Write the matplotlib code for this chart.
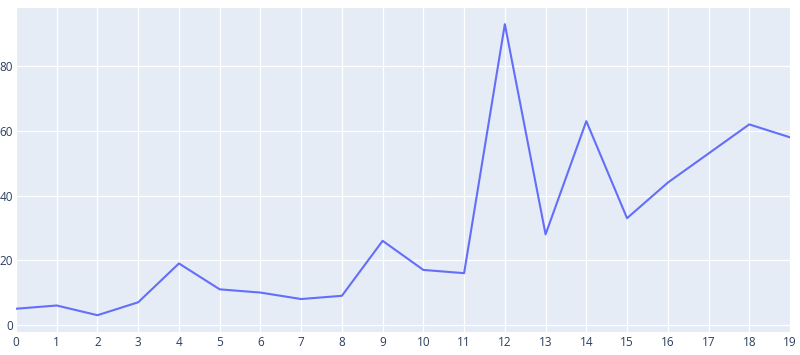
import matplotlib
matplotlib.use("Agg")
import matplotlib.pyplot as plt

x = list(range(20))
y = [5, 6, 3, 7, 19, 11, 10, 8, 9, 26, 17, 16, 93, 28, 63, 33, 44, 53, 62, 58]
xticks = list(range(20))
yticks = [0, 20, 40, 60, 80]

plt.rcParams['font.family'] = ['Open Sans', 'DejaVu Sans']
fig = plt.figure(figsize=(8, 3.55), dpi=100)
ax = fig.add_axes([16/800, 1 - 331.7/355, (790-16)/800, (331.7-8.3)/355])
ax.set_facecolor('#E5ECF6')
ax.plot(x, y, color='#636efa', linewidth=1.5, solid_joinstyle='round')
ax.set_xlim(0, 19)
ax.set_ylim(-2.1, 97.9)
ax.set_xticks(xticks)
ax.set_yticks(yticks)
ax.grid(True, color='white', linewidth=0.9)
ax.set_axisbelow(True)
for s in ax.spines.values():
    s.set_visible(False)
ax.tick_params(axis='x', length=0, labelsize=8.5, labelcolor='#2a3f5f', pad=3)
ax.tick_params(axis='y', length=0, labelsize=8.5, labelcolor='#2a3f5f', pad=2)
fig.savefig('out.png', dpi=100)
